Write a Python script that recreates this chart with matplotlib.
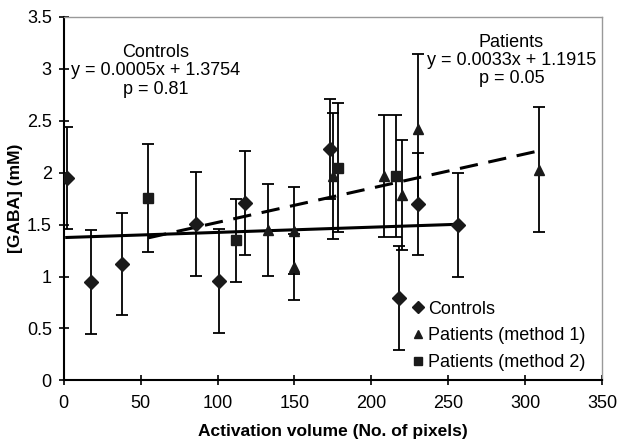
import numpy as np
import matplotlib
matplotlib.use("Agg")
import matplotlib.pyplot as plt

plt.rcParams['font.family'] = ['Liberation Sans', 'DejaVu Sans']

# Controls (diamonds)
ctrl_x = [2, 18, 38, 86, 101, 118, 173, 218, 230, 256]
ctrl_y = [1.95, 0.95, 1.12, 1.51, 0.96, 1.71, 2.23, 0.79, 1.70, 1.50]
ctrl_err = [0.49, 0.50, 0.49, 0.50, 0.50, 0.50, 0.48, 0.50, 0.49, 0.50]

# Patients, method 1 (triangles)
pm1_x = [133, 150, 150, 175, 208, 220, 230, 309]
pm1_y = [1.45, 1.44, 1.09, 1.97, 1.97, 1.79, 2.42, 2.03]
pm1_err = [0.44, 0.42, 0.32, 0.61, 0.59, 0.53, 0.72, 0.60]

# Patients, method 2 (squares)
pm2_x = [55, 112, 178, 216]
pm2_y = [1.76, 1.35, 2.05, 1.97]
pm2_err = [0.52, 0.40, 0.62, 0.59]

# regression fits reported on the chart
ctrl_fit = (0.0005, 1.3754)
pat_fit = (0.0033, 1.1915)

fs = 13

fig = plt.figure(figsize=(6.24, 4.47), dpi=100)
ax = fig.add_axes([0.102, 0.149, 0.863, 0.813])

eb = dict(fmt='none', ecolor='black', elinewidth=1.3, capsize=4, capthick=1.3, zorder=2)
ax.errorbar(ctrl_x, ctrl_y, yerr=ctrl_err, **eb)
ax.errorbar(pm1_x, pm1_y, yerr=pm1_err, **eb)
ax.errorbar(pm2_x, pm2_y, yerr=pm2_err, **eb)

ax.plot(ctrl_x, ctrl_y, 'D', color='#1a1a1a', markersize=7, label='Controls', zorder=4)
ax.plot(pm1_x, pm1_y, '^', color='#1a1a1a', markersize=7, label='Patients (method 1)', zorder=4)
ax.plot(pm2_x, pm2_y, 's', color='#1a1a1a', markersize=6.5, label='Patients (method 2)', zorder=4)

cx = np.array([min(ctrl_x), max(ctrl_x)])
ax.plot(cx, ctrl_fit[0] * cx + ctrl_fit[1], '-', color='black', lw=2.2, zorder=3)
px = np.array([min(pm1_x + pm2_x), max(pm1_x + pm2_x)])
ax.plot(px, pat_fit[0] * px + pat_fit[1], '--', color='black', lw=2.2,
        dashes=(6, 3.5), zorder=3)

ax.text(60, 2.98, 'Controls\ny = 0.0005x + 1.3754\np = 0.81', ha='center', va='center',
        fontsize=fs, linespacing=1.1)
ax.text(291, 3.08, 'Patients\ny = 0.0033x + 1.1915\np = 0.05', ha='center', va='center',
        fontsize=fs, linespacing=1.05)

leg = ax.legend(loc='lower right', bbox_to_anchor=(0.985, 0.0), frameon=False,
                fontsize=fs, handlelength=0.6, handletextpad=0.25, labelspacing=0.55,
                borderaxespad=0.1, markerscale=0.85)

ax.set_xlim(0, 350)
ax.set_ylim(0, 3.5)
ax.set_xticks(np.arange(0, 351, 50))
ax.set_yticks(np.arange(0, 3.51, 0.5))
ax.set_yticklabels(['0', '0.5', '1', '1.5', '2', '2.5', '3', '3.5'])
ax.tick_params(direction='inout', length=7, width=1.2, labelsize=fs)
ax.tick_params(axis='x', pad=7)
ax.tick_params(axis='y', pad=5)
ax.spines['left'].set_linewidth(1.5)
ax.spines['bottom'].set_linewidth(1.5)
for s in ('top', 'right'):
    ax.spines[s].set_color('#999999')
    ax.spines[s].set_linewidth(1.0)

ax.set_xlabel('Activation volume (No. of pixels)', fontsize=12.5, fontweight='bold', labelpad=9)
ax.set_ylabel('[GABA] (mM)', fontsize=12.5, fontweight='bold', labelpad=3)

fig.savefig('out.png', dpi=100)
